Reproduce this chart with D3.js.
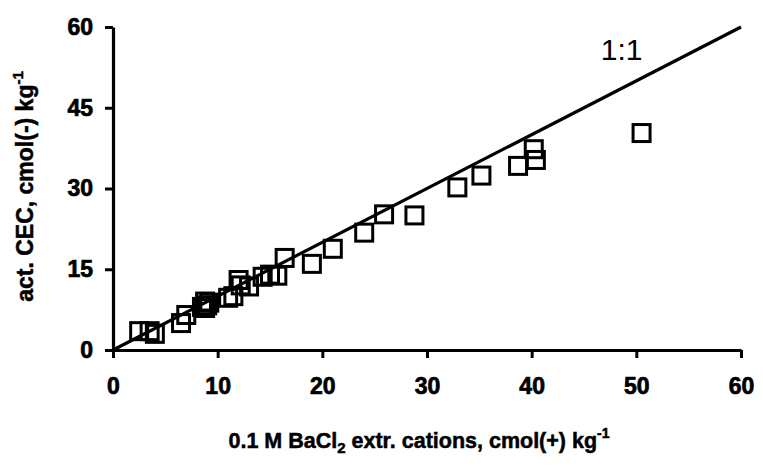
<!DOCTYPE html>
<html>
<head>
<meta charset="utf-8">
<script src="https://cdn.jsdelivr.net/npm/d3@7/dist/d3.min.js"></script>
<style>
  body { margin: 0; background: #fff; }
  text { font-family: "Liberation Sans", Arial, sans-serif; }
</style>
</head>
<body>
<div id="chart"></div>
<script>
// dimensions
const W = 763, H = 468;
const MARGIN = { top: 27, right: 22, bottom: 118, left: 113 };
const WIDTH = W - MARGIN.left - MARGIN.right;
const HEIGHT = H - MARGIN.top - MARGIN.bottom;

const xVals = [2.5, 3.5, 4.0, 6.5, 7.0, 8.5, 8.8, 9.0, 8.8, 9.2,
               11.0, 11.5, 12.0, 12.2, 13.0, 14.3, 15.0, 15.7, 16.4, 19.0,
               21.0, 24.0, 25.9, 28.8, 32.9, 35.2, 38.7, 40.2, 40.4, 50.5];
const yVals = [3.5, 3.5, 3.0, 5.0, 6.5, 8.0, 9.0, 8.3, 7.8, 8.8,
               9.7, 10.0, 13.0, 12.0, 11.8, 13.6, 14.0, 13.8, 17.1, 16.0,
               18.8, 21.8, 25.2, 25.0, 30.2, 32.4, 34.2, 37.3, 35.3, 40.3];

// axis ticks
const xTicks = [0, 10, 20, 30, 40, 50, 60];
const yTicks = [0, 15, 30, 45, 60];

// 1:1 reference line ends
const oneToOne = [0, 60];

const svg = d3.select("#chart")
    .append("svg")
    .attr("width", W)
    .attr("height", H)
    .append("g")
    .attr("transform", `translate(${MARGIN.left},${MARGIN.top})`);

const xScale = d3.scaleLinear().domain([0, 60]).range([0, WIDTH]);
const yScale = d3.scaleLinear().domain([0, 60]).range([HEIGHT, 0]);

// x axis
const xAxis = svg.append("g")
    .attr("transform", `translate(0,${HEIGHT})`)
    .call(d3.axisBottom(xScale).tickValues(xTicks).tickSize(8).tickPadding(20).tickSizeOuter(0));

// y axis
const yAxis = svg.append("g")
    .call(d3.axisLeft(yScale).tickValues(yTicks).tickSize(8).tickPadding(12).tickSizeOuter(0));

[xAxis, yAxis].forEach(a => {
    a.select(".domain").attr("stroke-width", 3.2);
    a.selectAll(".tick line").attr("stroke-width", 3);
    a.selectAll(".tick text")
        .attr("font-size", "23px")
        .attr("font-weight", "bold")
        .attr("fill", "#000")
        .attr("stroke", "#000")
        .attr("stroke-width", 0.7)
        .style("font-family", "'Liberation Sans', Arial, sans-serif");
});

// 1:1 line
svg.append("line")
    .attr("x1", xScale(oneToOne[0]))
    .attr("y1", yScale(oneToOne[0]))
    .attr("x2", xScale(oneToOne[1]))
    .attr("y2", yScale(oneToOne[1]))
    .attr("stroke", "#000")
    .attr("stroke-width", 3.2);

svg.append("text")
    .attr("x", xScale(46.6))
    .attr("y", yScale(53.8))
    .attr("font-size", "30px")
    .text("1:1");

// squares
const SIZE = 17;
svg.selectAll(".pt")
    .data(xVals.map((x, i) => ({ x: x, y: yVals[i] })))
    .enter()
    .append("rect")
    .attr("class", "pt")
    .attr("x", d => xScale(d.x) - SIZE / 2)
    .attr("y", d => yScale(d.y) - SIZE / 2)
    .attr("width", SIZE)
    .attr("height", SIZE)
    .attr("fill", "none")
    .attr("stroke", "#000")
    .attr("stroke-width", 3);

// axis titles
const xTitle = svg.append("text")
    .attr("x", WIDTH / 2 - 8)
    .attr("y", HEIGHT + 98)
    .attr("text-anchor", "middle")
    .attr("font-size", "21.5px")
    .attr("font-weight", "bold")
    .attr("stroke", "#000")
    .attr("stroke-width", 0.5);
xTitle.append("tspan").text("0.1 M BaCl");
xTitle.append("tspan").attr("font-size", "15px").attr("dy", 5).text("2");
xTitle.append("tspan").attr("dy", -5).text(" extr. cations, cmol(+) kg");
xTitle.append("tspan").attr("font-size", "14px").attr("dy", -10).text("-1");

const yTitle = svg.append("text")
    .attr("transform", `translate(${-80},${HEIGHT / 2 - 2}) rotate(-90)`)
    .attr("text-anchor", "middle")
    .attr("font-size", "23px")
    .attr("font-weight", "bold")
    .attr("stroke", "#000")
    .attr("stroke-width", 0.5);
yTitle.append("tspan").text("act. CEC, cmol(-) kg");
yTitle.append("tspan").attr("font-size", "15px").attr("dy", -10).text("-1");
</script>
</body>
</html>
